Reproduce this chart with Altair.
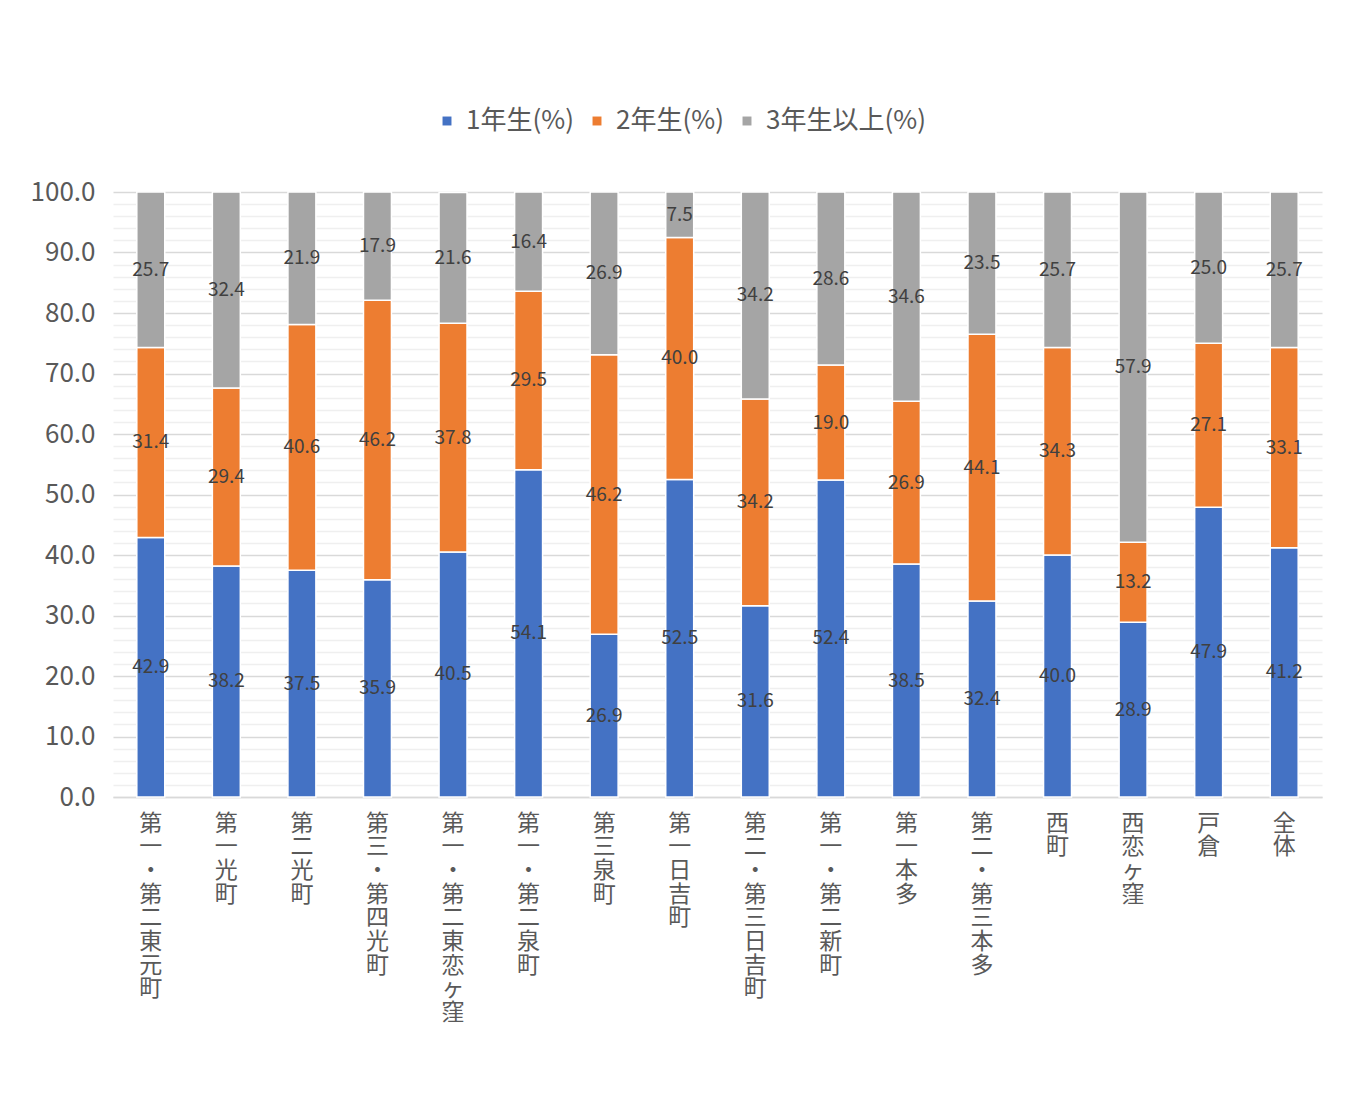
import altair as alt
import pandas as pd

categories = ["第一・第二東元町", "第一光町", "第二光町", "第三・第四光町", "第一・第二東恋ヶ窪",
              "第一・第二泉町", "第三泉町", "第一日吉町", "第二・第三日吉町", "第一・第二新町",
              "第一本多", "第二・第三本多", "西町", "西恋ヶ窪", "戸倉", "全体"]
series = ["1年生(%)", "2年生(%)", "3年生以上(%)"]
year1 = [42.9, 38.2, 37.5, 35.9, 40.5, 54.1, 26.9, 52.5, 31.6, 52.4, 38.5, 32.4, 40.0, 28.9, 47.9, 41.2]
year2 = [31.4, 29.4, 40.6, 46.2, 37.8, 29.5, 46.2, 40.0, 34.2, 19.0, 26.9, 44.1, 34.3, 13.2, 27.1, 33.1]
year3 = [25.7, 32.4, 21.9, 17.9, 21.6, 16.4, 26.9, 7.5, 34.2, 28.6, 34.6, 23.5, 25.7, 57.9, 25.0, 25.7]
colors = ["#4472C4", "#ED7D31", "#A5A5A5"]
ytick_values = list(range(0, 101, 2))

rows = []
for i, c in enumerate(categories):
    for k, (s, vals) in enumerate(zip(series, [year1, year2, year3])):
        rows.append({"cat": c, "series": s, "order": k, "value": vals[i]})
df = pd.DataFrame(rows)

FONT = "Noto Sans CJK JP"
GRAY = "#595959"

base = alt.Chart(df).transform_stack(
    stack="value", as_=["y0", "y1"], groupby=["cat"], sort=[alt.SortField("order")]
)

x_scale = alt.Scale(paddingInner=0.63, paddingOuter=0.315)
y_scale = alt.Scale(domain=[0, 100], nice=False)

x_axis = alt.Axis(
    labelAngle=0, labelExpr="split(datum.label, '')", labelFontSize=23,
    labelLineHeight=23.7, labelColor=GRAY, labelFont=FONT, labelBaseline="top",
    labelPadding=15, ticks=False, domainColor="#d9d9d9", domainWidth=1.5,
    grid=False, labelLimit=0, labelOverlap=False,
)

bars = base.mark_bar(stroke="white", strokeWidth=1.5).encode(
    x=alt.X("cat:N", sort=categories, title=None, scale=x_scale, axis=x_axis),
    y=alt.Y(
        "y0:Q", title=None, scale=y_scale,
        axis=alt.Axis(
            values=ytick_values,
            labelExpr="datum.value % 10 === 0 ? format(datum.value, '.1f') : ''",
            labelFontSize=26, labelColor=GRAY, labelFont=FONT, labelPadding=18,
            labelOverlap=False, labelFlush=False, labelBound=False,
            ticks=False, domain=False,
            gridColor={"condition": {"test": "datum.value % 10 === 0", "value": "#d9d9d9"},
                       "value": "#efefef"},
            gridWidth=1.3,
        ),
    ),
    y2="y1:Q",
    color=alt.Color(
        "series:N", sort=series, scale=alt.Scale(domain=series, range=colors),
        legend=alt.Legend(
            title=None, orient="none", legendX=321, legendY=-84, direction="horizontal",
            symbolType="square", symbolSize=80, symbolStrokeWidth=0,
            labelFontSize=26, labelColor=GRAY, labelFont=FONT, columnPadding=10,
            labelOffset=6, labelLimit=0,
        ),
    ),
    order=alt.Order("order:Q"),
)

labels = base.transform_calculate(mid="(datum.y0 + datum.y1) / 2").mark_text(
    fontSize=19, color="#404040", font=FONT
).encode(
    x=alt.X("cat:N", sort=categories, title=None, scale=x_scale, axis=x_axis),
    y=alt.Y("mid:Q", axis=None, scale=y_scale),
    text=alt.Text("value:Q", format=".1f"),
)

chart = alt.layer(bars, labels).resolve_axis(y="independent").properties(
    width=1209, height=605,
    autosize=alt.AutoSizeParams(type="none"),
    padding={"left": 105, "top": 184, "right": 24, "bottom": 280},
).configure_view(stroke="transparent")

chart.save("out.html", embed_options={"renderer": "svg", "actions": False})
